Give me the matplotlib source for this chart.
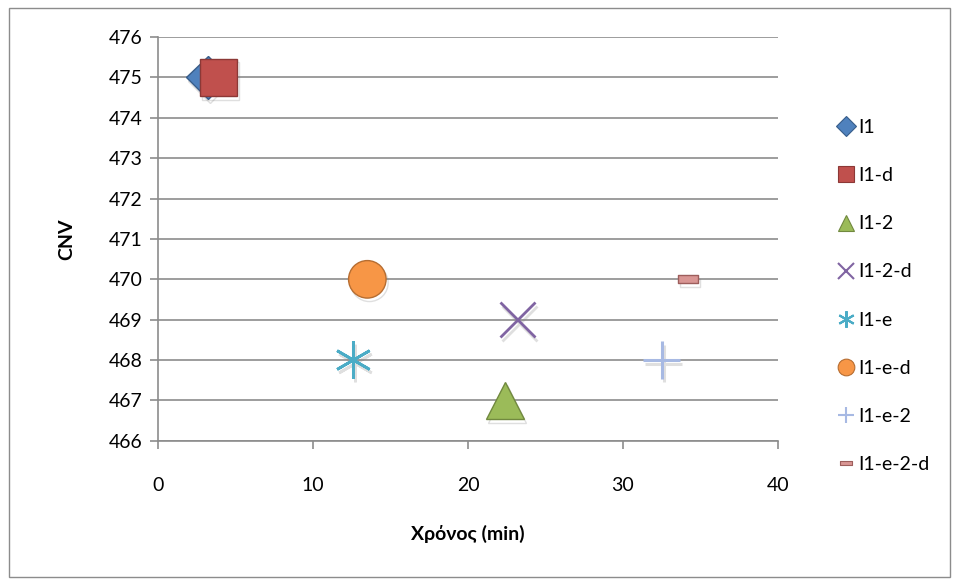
import matplotlib.pyplot as plt
from matplotlib.lines import Line2D
from matplotlib.patches import Rectangle
from matplotlib.path import Path
import matplotlib.patheffects as pe

plt.rcParams['font.family'] = ['Lato', 'Open Sans', 'DejaVu Sans']

# samples: (time in min, CNV)
labels = ['I1', 'I1-d', 'I1-2', 'I1-2-d', 'I1-e', 'I1-e-d', 'I1-e-2', 'I1-e-2-d']
times = [3.2, 3.9, 22.4, 23.2, 12.6, 13.5, 32.5, 34.2]
cnv = [475, 475, 467, 469, 468, 470, 468, 470]

flat_rect = Path([(-1, -0.4), (1, -0.4), (1, 0.4), (-1, 0.4), (-1, -0.4)],
                 [Path.MOVETO, Path.LINETO, Path.LINETO, Path.LINETO, Path.CLOSEPOLY])

# marker, face, edge, size (pt), legend size, line width
styles = [
    ('D', '#4F81BD', '#385D8A', 22, 10, 1.0),
    ('s', '#C0504D', '#8C3836', 27, 11, 1.0),
    ('^', '#9BBB59', '#71893F', 27, 12, 1.0),
    ('x', '#8064A2', '#8064A2', 25, 12, 2.0),
    ('*', '#4BACC6', '#4BACC6', 27, 12, 2.0),
    ('o', '#F79646', '#B66D31', 27, 12, 1.0),
    ('+', '#A7B9E3', '#A7B9E3', 27, 12, 2.2),
    (flat_rect, '#D99694', '#9D5E5C', 15, 8, 1.0),
]

fig = plt.figure(figsize=(9.59, 5.8), dpi=100)
ax = fig.add_axes([0.165, 0.24, 0.646, 0.696])

shadow = [pe.SimpleLineShadow(offset=(1.5, -2.5), alpha=0.25, shadow_color='gray'), pe.Normal()]

handles = []
for lab, x, y, (m, fc, ec, ms, lms, lw) in zip(labels, times, cnv, styles):
    if m in ('x', '+', '*'):
        if m == '*':
            m = (6, 2, 0)
        ax.plot([x], [y], linestyle='none', marker=m, markersize=ms,
                markeredgecolor=fc, markeredgewidth=lw, path_effects=shadow, zorder=3)
        handles.append(Line2D([], [], linestyle='none', marker=m, markersize=lms,
                              markeredgecolor=fc, markeredgewidth=1.5, label=lab))
    else:
        ax.plot([x], [y], linestyle='none', marker=m, markersize=ms,
                markerfacecolor=fc, markeredgecolor=ec, markeredgewidth=lw,
                path_effects=shadow, zorder=3)
        handles.append(Line2D([], [], linestyle='none', marker=m, markersize=lms,
                              markerfacecolor=fc, markeredgecolor=ec, markeredgewidth=0.8,
                              label=lab))

ax.set_xlim(0, 40)
ax.set_ylim(466, 476)
ax.set_xticks(range(0, 41, 10))
ax.set_yticks(range(466, 477))
ax.yaxis.grid(True, color='#8c8c8c', linewidth=1.2)
ax.set_axisbelow(True)
for side in ('top', 'right'):
    ax.spines[side].set_visible(False)
for side in ('left', 'bottom'):
    ax.spines[side].set_color('#8c8c8c')
    ax.spines[side].set_linewidth(1.2)
ax.tick_params(axis='both', direction='out', length=6, width=1.2, color='#8c8c8c',
               labelsize=14)
ax.tick_params(axis='y', pad=5)
ax.tick_params(axis='x', pad=20)

ax.set_xlabel('Χρόνος (min)', fontsize=14, fontweight='bold', labelpad=22)
ax.set_ylabel('CNV', fontsize=14, fontweight='bold', labelpad=24)

fig.legend(handles=handles, loc='upper left', bbox_to_anchor=(0.862, 0.808),
           frameon=False, fontsize=14, handletextpad=0.05, handlelength=1.2,
           labelspacing=1.6, borderaxespad=0)

fig.patches.append(Rectangle((0.009, 0.005), 0.982, 0.982, transform=fig.transFigure,
                             fill=False, edgecolor='#8c8c8c', linewidth=1.0))

fig.savefig('out.png', dpi=100)
